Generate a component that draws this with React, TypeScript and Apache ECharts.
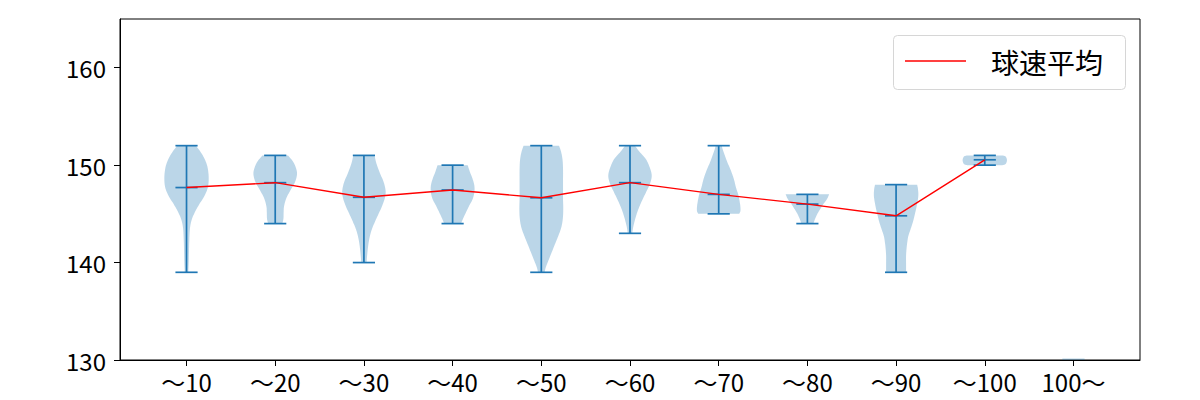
import React, { useEffect, useRef } from "react";
import * as echarts from "echarts";

const categories = ["〜10", "〜20", "〜30", "〜40", "〜50", "〜60", "〜70", "〜80", "〜90", "〜100", "100〜"];
const yTicks = [130, 140, 150, 160];
const meanSpeed = [147.7, 148.2, 146.7, 147.45, 146.65, 148.2, 147.0, 146.0, 144.8, 150.55];
const minSpeed = [139, 144, 140, 144, 139, 143, 145, 144, 139, 150];
const maxSpeed = [152, 151, 151, 150, 152, 152, 152, 147, 148, 151];
// violin outlines: [speed, relative half width]
const profile10 = [[139, 0.08], [140, 0.1], [141, 0.11], [142, 0.12], [143.4, 0.15], [144.3, 0.22], [145.1, 0.36], [146, 0.58], [146.8, 0.8], [147.7, 0.96], [148.6, 1.0], [149.5, 0.97], [150.3, 0.88], [151.2, 0.68], [152, 0.42]];
const profile20 = [[144, 0.32], [144.5, 0.37], [145.2, 0.38], [145.8, 0.4], [146.6, 0.5], [147.4, 0.68], [148.2, 0.88], [149, 0.98], [149.6, 0.95], [150.3, 0.82], [151, 0.58]];
const profile30 = [[140, 0.12], [140.6, 0.14], [141.5, 0.18], [142.4, 0.24], [143.3, 0.34], [144.1, 0.48], [145, 0.66], [145.8, 0.82], [146.6, 0.94], [147.3, 0.98], [148.2, 0.9], [149.2, 0.72], [150.2, 0.56], [151, 0.48]];
const profile40 = [[144, 0.38], [144.4, 0.45], [144.8, 0.53], [145.8, 0.74], [146.5, 0.9], [147.2, 0.98], [147.9, 0.98], [148.6, 0.9], [149.3, 0.78], [150, 0.68]];
const profile50 = [[139, 0.15], [139.5, 0.2], [140.2, 0.32], [141, 0.46], [141.8, 0.6], [142.7, 0.76], [143.6, 0.9], [144.5, 0.97], [145.5, 0.99], [146.5, 0.98], [147.5, 0.98], [148.5, 0.98], [149.5, 0.98], [150.5, 0.96], [151.3, 0.9], [152, 0.8]];
const profile60 = [[143, 0.1], [143.7, 0.15], [144.6, 0.25], [145.5, 0.38], [146.4, 0.55], [147.2, 0.72], [148.1, 0.9], [148.9, 0.98], [149.7, 0.9], [150.6, 0.72], [151.4, 0.42], [152, 0.22]];
const profile70 = [[145, 0.92], [145.3, 0.98], [145.9, 0.97], [146.9, 0.89], [147.7, 0.78], [148.6, 0.68], [149.5, 0.54], [150.3, 0.39], [151.1, 0.26], [151.7, 0.17], [152, 0.14]];
const profile80 = [[144, 0.27], [144.5, 0.35], [145, 0.45], [145.5, 0.58], [146, 0.72], [146.5, 0.88], [147, 0.98]];
const profile90 = [[139, 0.45], [140, 0.45], [140.7, 0.45], [141.4, 0.47], [142, 0.5], [142.7, 0.55], [143.4, 0.65], [144.1, 0.75], [144.8, 0.83], [145.8, 0.93], [146.8, 1.0], [147.5, 0.99], [148, 0.95]];
const profile100 = [[150, 0.8], [150.12, 0.94], [150.5, 1.0], [150.88, 0.94], [151, 0.8]];
const profiles = [profile10, profile20, profile30, profile40, profile50, profile60, profile70, profile80, profile90, profile100, []];
const clippedBelowAxis = [false, false, false, false, false, false, false, false, false, false, true];

const FONT = "'Noto Sans CJK JP', 'Noto Sans', sans-serif";
const BLUE = "#1f77b4";

function catmull(pts: number[][]) {
  const out: number[][] = [];
  const n = pts.length;
  for (let k = 0; k < n - 1; k++) {
    const p0 = pts[Math.max(k - 1, 0)], p1 = pts[k], p2 = pts[k + 1], p3 = pts[Math.min(k + 2, n - 1)];
    for (let s = 0; s < 8; s++) {
      const t = s / 8, t2 = t * t, t3 = t2 * t;
      const f = (a: number, b: number, c: number, d: number) =>
        0.5 * (2 * b + (-a + c) * t + (2 * a - 5 * b + 4 * c - d) * t2 + (-a + 3 * b - 3 * c + d) * t3);
      out.push([f(p0[0], p1[0], p2[0], p3[0]), f(p0[1], p1[1], p2[1], p3[1])]);
    }
  }
  out.push(pts[n - 1]);
  return out;
}

export default function App() {
  const ref = useRef<HTMLDivElement>(null);
  useEffect(() => {
    const chart = echarts.init(ref.current!, null, { renderer: "svg" });
    const HALF = 0.25;
    const CAP = 0.125;
    const option: any = {
      animation: false,
      backgroundColor: "#fff",
      grid: { left: 120, right: 60, top: 19, bottom: 40, show: true, borderColor: "#000", borderWidth: 1, backgroundColor: "transparent" },
      xAxis: {
        type: "value",
        min: 0.25,
        max: 11.75,
        axisLine: { show: true, lineStyle: { color: "#000", width: 1 } },
        axisTick: { show: true, customValues: categories.map((_, i) => i + 1), length: 6, lineStyle: { color: "#000" } },
        axisLabel: {
          customValues: categories.map((_, i) => i + 1),
          formatter: (v: number) => categories[Math.round(v) - 1] ?? "",
          color: "#000", fontSize: 24, fontFamily: FONT, margin: 9,
        },
        splitLine: { show: false },
      },
      yAxis: {
        type: "value",
        min: 130,
        max: 165,
        interval: 10,
        axisLine: { show: true, lineStyle: { color: "#000", width: 1 } },
        axisTick: { show: true, length: 6, lineStyle: { color: "#000" } },
        axisLabel: {
          color: "#000", fontSize: 24, fontFamily: FONT, margin: 14, showMaxLabel: false,
          formatter: (v: number) => (yTicks.includes(v) ? String(v) : ""),
        },
        splitLine: { show: false },
      },
      series: [
        {
          type: "custom",
          clip: true,
          data: categories.map((_, i) => [i, i + 1, meanSpeed[i] ?? 130]),
          encode: { x: 1, y: 2 },
          renderItem: (params: any, api: any) => {
            const i = api.value(0);
            const pos = i + 1;
            const prof = profiles[i];
            const children: any[] = [];
            if (prof.length) {
              const right = prof.map(([v, w]) => api.coord([pos + w * HALF, v]));
              const left = prof.map(([v, w]) => api.coord([pos - w * HALF, v])).reverse();
              children.push({
                type: "polygon",
                shape: { points: catmull(right).concat(catmull(left)) },
                style: { fill: "rgba(31,119,180,0.3)", stroke: "none" },
              });
              const seg = (x1: number, v1: number, x2: number, v2: number) => {
                const a = api.coord([x1, v1]);
                const b = api.coord([x2, v2]);
                children.push({ type: "line", shape: { x1: a[0], y1: a[1], x2: b[0], y2: b[1] }, style: { stroke: BLUE, lineWidth: 1.7 } });
              };
              seg(pos, minSpeed[i], pos, maxSpeed[i]);
              seg(pos - CAP, maxSpeed[i], pos + CAP, maxSpeed[i]);
              seg(pos - CAP, minSpeed[i], pos + CAP, minSpeed[i]);
              seg(pos - CAP, meanSpeed[i], pos + CAP, meanSpeed[i]);
            } else if (clippedBelowAxis[i]) {
              const a = api.coord([pos - CAP, 130]);
              const b = api.coord([pos + CAP, 130]);
              children.push({ type: "rect", shape: { x: a[0], y: a[1] - 1.5, width: b[0] - a[0], height: 1.5 }, style: { fill: "rgba(31,119,180,0.3)" } });
            }
            return { type: "group", children };
          },
          z: 2,
        },
        {
          type: "line",
          name: "球速平均",
          data: meanSpeed.map((m, i) => [i + 1, m]),
          symbol: "none",
          lineStyle: { color: "#ff0000", width: 1.4 },
          itemStyle: { color: "#ff0000" },
          z: 5,
        },
      ],
      graphic: [
        {
          type: "group",
          z: 100,
          children: [
            { type: "rect", shape: { x: 893.5, y: 35.5, width: 232, height: 54, r: 4 }, style: { fill: "rgba(255,255,255,0.8)", stroke: "#d6d6d6", lineWidth: 1 } },
            { type: "line", shape: { x1: 905, y1: 61, x2: 966, y2: 61 }, style: { stroke: "#ff0000", lineWidth: 1.4 } },
            { type: "text", x: 991, y: 62, style: { text: "球速平均", fontSize: 28, fontFamily: FONT, fill: "#000", verticalAlign: "middle", align: "left" } },
          ],
        },
      ],
    };
    chart.setOption(option);
    return () => chart.dispose();
  }, []);
  return <div ref={ref} style={{ position: "fixed", left: 0, top: 0, width: 1200, height: 400, background: "#fff" }} />;
}
